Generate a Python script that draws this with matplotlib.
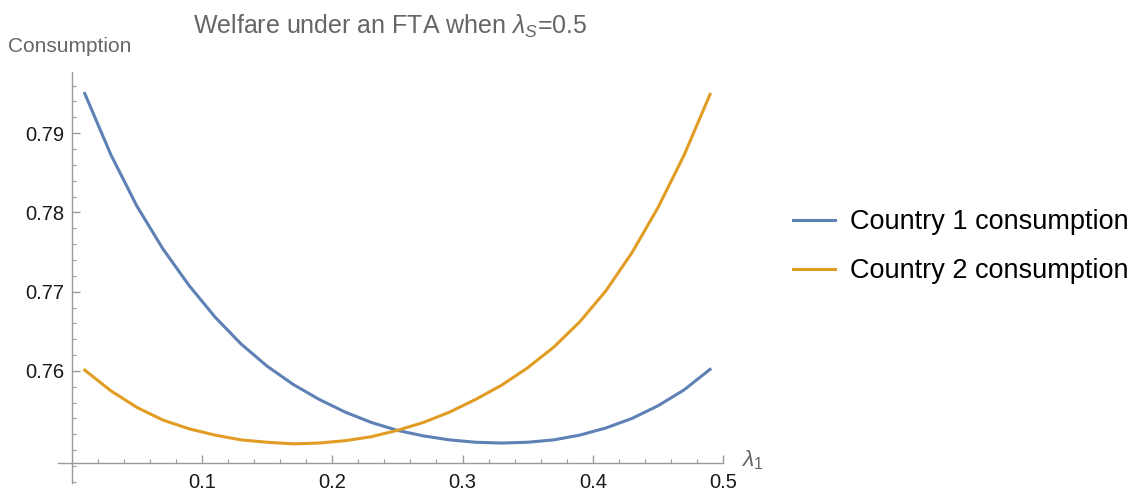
import numpy as np
import matplotlib
matplotlib.use("Agg")
import matplotlib.pyplot as plt
from matplotlib.ticker import MultipleLocator, FixedLocator

plt.rcParams['font.family'] = ['Liberation Sans', 'DejaVu Sans']
plt.rcParams['mathtext.fontset'] = 'custom'
plt.rcParams['mathtext.rm'] = 'Liberation Sans'
plt.rcParams['mathtext.it'] = 'Liberation Sans:italic'

# lambda_1 values and consumption
lam1 = [0.01, 0.03, 0.05, 0.07, 0.09, 0.11, 0.13, 0.15, 0.17, 0.19, 0.21, 0.23, 0.25,
        0.27, 0.29, 0.31, 0.33, 0.35, 0.37, 0.39, 0.41, 0.43, 0.45, 0.47, 0.49]
country1 = [0.7950, 0.7873, 0.7808, 0.7754, 0.7708, 0.7668, 0.7634, 0.7606, 0.7583, 0.7564,
            0.7548, 0.7535, 0.7525, 0.7518, 0.7513, 0.7510, 0.7509, 0.7510, 0.7513, 0.7519,
            0.7528, 0.7540, 0.7556, 0.7576, 0.7602]
country2 = [0.7601, 0.7575, 0.7554, 0.7538, 0.7527, 0.7519, 0.7513, 0.7510, 0.7508, 0.7509,
            0.7512, 0.7517, 0.7525, 0.7535, 0.7548, 0.7564, 0.7582, 0.7604, 0.7630, 0.7662,
            0.7701, 0.7749, 0.7806, 0.7872, 0.7949]
labels = ['Country 1 consumption', 'Country 2 consumption']
colors = ['#5E81B5', '#E19C24']

fig = plt.figure(figsize=(11.36, 4.93), dpi=100)
ax = fig.add_axes([0.0511, 0.0203, 0.5854, 0.834])

ax.plot(lam1, country1, color=colors[0], lw=2.2, label=labels[0], solid_joinstyle='round')
ax.plot(lam1, country2, color=colors[1], lw=2.2, label=labels[1], solid_joinstyle='round')

ax.set_xlim(-0.0105, 0.5)
ax.set_ylim(0.74586, 0.79774)

axcol = '#9a9a9a'
for s in ['top', 'right']:
    ax.spines[s].set_visible(False)
ax.spines['left'].set_position(('data', 0))
ax.spines['bottom'].set_position(('data', 0.7484))
for s in ['left', 'bottom']:
    ax.spines[s].set_color(axcol)
    ax.spines[s].set_linewidth(1.0)

ax.xaxis.set_major_locator(FixedLocator([0.1, 0.2, 0.3, 0.4, 0.5]))
ax.xaxis.set_minor_locator(MultipleLocator(0.02))
ax.yaxis.set_major_locator(FixedLocator([0.76, 0.77, 0.78, 0.79]))
ax.yaxis.set_minor_locator(MultipleLocator(0.002))
ax.set_xticklabels(['0.1', '0.2', '0.3', '0.4', '0.5'])
ax.set_yticklabels(['0.76', '0.77', '0.78', '0.79'])
ax.tick_params(which='both', direction='in', color=axcol, labelcolor='#1a1a1a', labelsize=14.5)
ax.tick_params(which='major', length=5.5, width=1.0)
ax.tick_params(which='minor', length=3.2, width=0.8)
ax.tick_params(axis='x', pad=7)
ax.tick_params(axis='y', pad=5.5)

fig.text(0.3433, 0.947, r'Welfare under an FTA when $\lambda_S$=0.5', ha='center', va='center',
         fontsize=18, color='#666666')
fig.text(0.007, 0.905, 'Consumption', ha='left', va='center', fontsize=15, color='#666666')
fig.text(0.652, 0.067, r'$\lambda_1$', ha='left', va='center', fontsize=16.5, color='#666666')

fig.legend(loc='center left', bbox_to_anchor=(0.698, 0.5), frameon=False, fontsize=19.5,
           handlelength=1.55, handletextpad=0.55, labelspacing=0.85, borderpad=0, borderaxespad=0)

fig.savefig('out.png', dpi=100)
